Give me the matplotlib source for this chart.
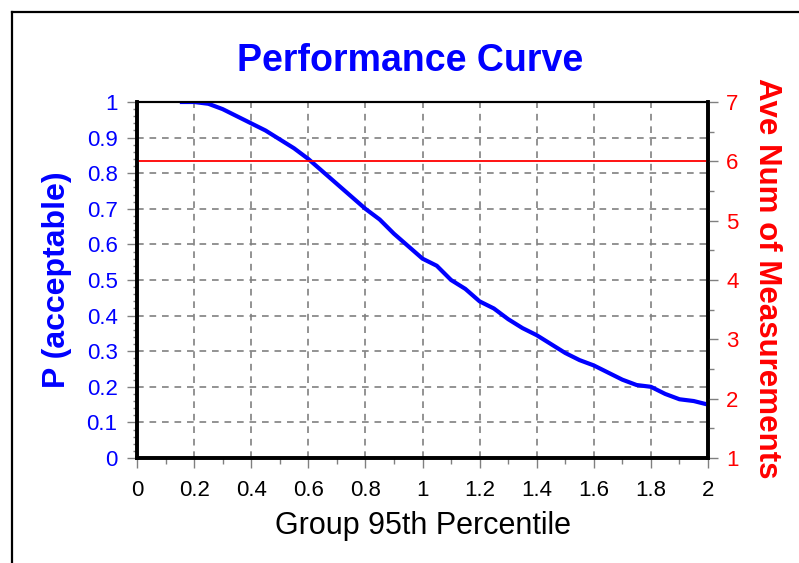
import numpy as np
import matplotlib
matplotlib.use('agg')
import matplotlib.pyplot as plt
from matplotlib.lines import Line2D
from matplotlib.ticker import MultipleLocator

# curve
group_p95 = [0.15, 0.2, 0.25, 0.3, 0.35, 0.4, 0.45, 0.5, 0.55, 0.6, 0.65, 0.7,
             0.75, 0.8, 0.85, 0.9, 0.95, 1.0, 1.05, 1.1, 1.15, 1.2, 1.25, 1.3,
             1.35, 1.4, 1.45, 1.5, 1.55, 1.6, 1.65, 1.7, 1.75, 1.8, 1.85, 1.9,
             1.95, 2.0]
p_accept = [1.0, 1.0, 0.995, 0.98, 0.96, 0.94, 0.92, 0.895, 0.87, 0.84, 0.805,
            0.77, 0.735, 0.70, 0.67, 0.63, 0.595, 0.56, 0.54, 0.50, 0.475, 0.44,
            0.42, 0.39, 0.365, 0.345, 0.32, 0.295, 0.275, 0.26, 0.24, 0.22,
            0.205, 0.20, 0.18, 0.165, 0.16, 0.15]
ave_num = 6

x_ticklabels = ['0', '0.2', '0.4', '0.6', '0.8', '1', '1.2', '1.4', '1.6', '1.8', '2']
y_ticklabels = ['0', '0.1', '0.2', '0.3', '0.4', '0.5', '0.6', '0.7', '0.8', '0.9', '1']

plt.rcParams['font.family'] = ['Liberation Sans', 'DejaVu Sans']

fig = plt.figure(figsize=(7.99, 5.63), dpi=100)
ax = fig.add_axes([137 / 799, 1 - 458 / 563, (708 - 137) / 799, (458 - 102) / 563])
ax2 = ax.twinx()

ax.plot(group_p95, p_accept, color='#0000ff', lw=3, solid_capstyle='butt', zorder=3)
ax2.axhline(ave_num, color='#ff0000', lw=1.3)

ax.set_xlim(0, 2)
ax.set_ylim(0, 1)
ax2.set_ylim(1, 7)

ax.set_xticks(np.arange(0, 2.01, 0.2))
ax.set_xticklabels(x_ticklabels)
ax.xaxis.set_minor_locator(MultipleLocator(0.1))
ax.set_yticks(np.arange(0, 1.01, 0.1))
ax.set_yticklabels(y_ticklabels)
ax.yaxis.set_minor_locator(MultipleLocator(0.02))
ax2.yaxis.set_major_locator(MultipleLocator(1))
ax2.yaxis.set_minor_locator(MultipleLocator(0.5))

ax.grid(True, which='major', color='#808080', ls=(0, (4, 3.5)), lw=1.2)

ax.tick_params(axis='x', which='major', length=7, width=1, color='#808080',
               labelsize=16, labelcolor='black', pad=9)
ax.tick_params(axis='x', which='minor', length=4, width=1, color='#808080')
ax.tick_params(axis='y', which='major', length=7, width=1, color='#808080',
               labelsize=16, labelcolor='#0000ff', pad=7)
ax.tick_params(axis='y', which='minor', length=3, width=1, color='#808080')
ax2.tick_params(axis='y', which='major', length=7, width=1, color='#808080',
                labelsize=16, labelcolor='#ff0000', pad=6)
ax2.tick_params(axis='y', which='minor', length=4, width=1, color='#808080')

for a in (ax, ax2):
    for side in ('left', 'bottom', 'right'):
        a.spines[side].set_linewidth(2.6)
        a.spines[side].set_color('black')
    a.spines['top'].set_linewidth(1.5)
    a.spines['top'].set_color('black')

fig.text(410 / 799, 1 - 61 / 563, 'Performance Curve', color='#0000ff',
         fontsize=27, fontweight='bold', ha='center', va='center')
fig.text(57 / 799, 1 - 280 / 563, 'P (acceptable)', color='#0000ff',
         fontsize=23, fontweight='bold', rotation=90, ha='center', va='center')
fig.text(767 / 799, 1 - 278 / 563, 'Ave Num of Measurements', color='#ff0000',
         fontsize=22.5, fontweight='bold', rotation=-90, ha='center', va='center')
fig.text(423 / 799, 1 - 526 / 563, 'Group 95th Percentile', color='black',
         fontsize=22, ha='center', va='center')

# outer frame (left and top edges visible)
fig.add_artist(Line2D([12 / 799, 12 / 799], [0, 1 - 12 / 563], color='black', lw=1.6,
                      transform=fig.transFigure))
fig.add_artist(Line2D([12 / 799, 1], [1 - 12 / 563, 1 - 12 / 563], color='black', lw=1.6,
                      transform=fig.transFigure))

plt.savefig('out.png', dpi=100)
